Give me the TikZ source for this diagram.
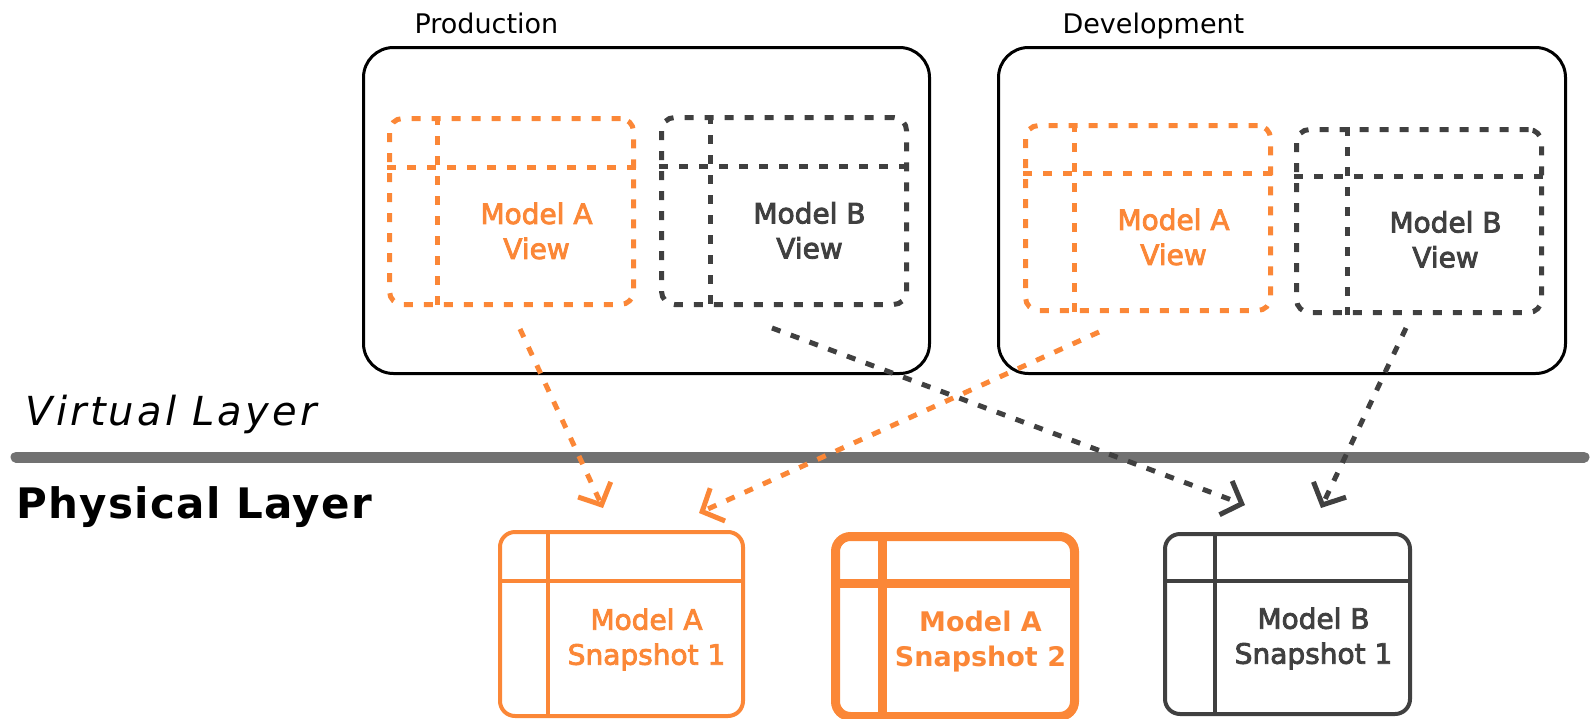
\documentclass[tikz,border=0pt]{standalone}
\usepackage{fontspec}
\setmainfont{DejaVu Sans}
\newfontfamily\medfont{DejaVu Sans}[BoldFont=DejaVu Sans,BoldFeatures={FakeBold=3}]
\usetikzlibrary{arrows.meta,calc}

\definecolor{snaporange}{RGB}{251,135,55}
\definecolor{darkgrey}{RGB}{64,64,64}
\definecolor{rulegrey}{RGB}{113,113,113}

\begin{document}
\begin{tikzpicture}[x=1pt,y=-1pt,
  env/.style={draw=black,line width=3pt,rounded corners=30pt,inner sep=0pt,anchor=north west},
  viewline/.style={line width=5pt,dash pattern=on 9pt off 11pt},
  view/.style={viewline,rounded corners=13pt,inner sep=0pt,anchor=north west},
  snap/.style={line width=4pt,rounded corners=15pt,inner sep=0pt,anchor=north west},
  lbl/.style={align=center,font=\medfont\bfseries\fontsize{28}{35}\selectfont},
  envlbl/.style={anchor=base west,font=\fontsize{27}{34}\selectfont},
  link/.style={viewline,-{Straight Barb[length=17pt,width=36pt]}}
]
  \useasboundingbox (0,0) rectangle (1593,718);

% environments
  \node[envlbl] (prod-lbl) at (411,33) {Production};
  \node[envlbl] (dev-lbl) at (1059,33) {Development};
  \node[env,minimum width=566pt,minimum height=326pt] (prod) at (362,46) {};
  \node[env,minimum width=567pt,minimum height=326pt] (dev) at (997,46) {};

% views (virtual layer)
  \node[view,draw=snaporange,minimum width=244pt,minimum height=186pt] (pa) at (387,116) {};
  \node[view,draw=darkgrey,minimum width=245pt,minimum height=187pt] (pb) at (659,115) {};
  \node[view,draw=snaporange,minimum width=245pt,minimum height=185pt] (da) at (1023,123) {};
  \node[view,draw=darkgrey,minimum width=245pt,minimum height=183pt] (db) at (1294,127) {};
  \foreach \b/\c/\dx/\dy in {pa/snaporange/50/51, pb/darkgrey/51/51, da/snaporange/51/50, db/darkgrey/53/49} {
    \draw[viewline,\c] ($(\b.north west)+(\dx,0)$) -- ($(\b.south west)+(\dx,0)$);
    \draw[viewline,\c] ($(\b.north west)+(0,\dy)$) -- ($(\b.north east)+(0,\dy)$);
    \coordinate (\b-cell) at ($($(\b.north west)+(\dx,\dy)$)!.5!(\b.south east)+(0,-6)$);
  }
  \node[lbl,text=snaporange] (pa-txt) at (pa-cell) {Model A\\View};
  \node[lbl,text=darkgrey] (pb-txt) at (pb-cell) {Model B\\View};
  \node[lbl,text=snaporange] (da-txt) at (da-cell) {Model A\\View};
  \node[lbl,text=darkgrey] (db-txt) at (db-cell) {Model B\\View};

% layer split
  \node[anchor=base west,font=\itshape\fontsize{40}{48}\selectfont\addfontfeature{LetterSpace=8}] (virt) at (22,425) {Virtual Layer};
  \draw[rulegrey,line width=11pt,line cap=round] (16,457) -- (1584,457);
  \node[anchor=base west,font=\bfseries\fontsize{42}{50}\selectfont\addfontfeature{LetterSpace=3}] (phys) at (13,518) {Physical Layer};

% snapshots (physical layer)
  \node[snap,draw=snaporange,minimum width=243pt,minimum height=184pt] (sa1) at (498,530) {};
  \node[snap,draw=snaporange,line width=9pt,minimum width=239pt,minimum height=180pt] (sa2) at (831,532) {};
  \node[snap,draw=darkgrey,minimum width=245pt,minimum height=180pt] (sb1) at (1163,532) {};
  \foreach \b/\c/\w/\dx/\dy in {sa1/snaporange/4/50/51, sa2/snaporange/9/51/51, sb1/darkgrey/4/52/49} {
    \draw[\c,line width=\w pt] ($(\b.north west)+(\dx,0)$) -- ($(\b.south west)+(\dx,0)$);
    \draw[\c,line width=\w pt] ($(\b.north west)+(0,\dy)$) -- ($(\b.north east)+(0,\dy)$);
    \coordinate (\b-cell) at ($($(\b.north west)+(\dx,\dy)$)!.5!(\b.south east)+(0,-10)$);
  }
  \node[lbl,text=snaporange] (sa1-txt) at (sa1-cell) {Model A\\Snapshot 1};
  \node[lbl,text=snaporange,font=\bfseries\fontsize{27}{35}\selectfont] (sa2-txt) at (sa2-cell) {Model A\\Snapshot 2};
  \node[lbl,text=darkgrey] (sb1-txt) at (sb1-cell) {Model B\\Snapshot 1};

% view -> snapshot links
  \coordinate (pa-out) at (520,329);
  \coordinate (pb-out) at (772,328);
  \coordinate (da-out) at (1099,332);
  \coordinate (db-out) at (1406,328);
  \coordinate (sa1-in) at (603,508);
  \coordinate (sa1-in2) at (699,513);
  \coordinate (sb1-in) at (1245,505);
  \coordinate (sb1-in2) at (1321,508);
  \draw[link,snaporange] (pa-out) -- (sa1-in);
  \draw[link,darkgrey] (pb-out) -- (sb1-in);
  \draw[link,snaporange] (da-out) -- (sa1-in2);
  \draw[link,darkgrey] (db-out) -- (sb1-in2);
\end{tikzpicture}
\end{document}
